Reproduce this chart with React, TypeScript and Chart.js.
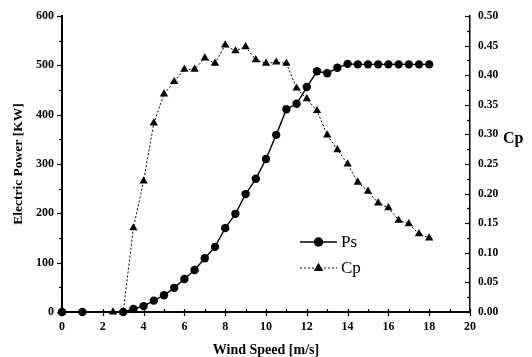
import React, { useEffect, useRef } from "react";
import { Chart, registerables } from "chart.js";

Chart.register(...registerables);

// Wind speed (m/s) for the power curve Ps
const psSpeed = [0, 1, 3, 3.5, 4, 4.5, 5, 5.5, 6, 6.5, 7, 7.5, 8, 8.5, 9, 9.5, 10, 10.5, 11, 11.5, 12, 12.5, 13, 13.5, 14, 14.5, 15, 15.5, 16, 16.5, 17, 17.5, 18];
// Electric power (KW)
const psValues = [0, 0, 0, 6, 12, 23, 34, 49, 67, 85, 109, 132, 170, 199, 239, 270, 310, 359, 411, 422, 456, 488, 484, 495, 503, 502, 502, 502, 502, 502, 502, 502, 502];

// Wind speed (m/s) for Cp
const cpSpeed = [0, 2.5, 3, 3.5, 4, 4.5, 5, 5.5, 6, 6.5, 7, 7.5, 8, 8.5, 9, 9.5, 10, 10.5, 11, 11.5, 12, 12.5, 13, 13.5, 14, 14.5, 15, 15.5, 16, 16.5, 17, 17.5, 18];
const cpValues = [0, 0, 0, 0.142, 0.221, 0.319, 0.368, 0.389, 0.41, 0.41, 0.429, 0.42, 0.451, 0.441, 0.448, 0.426, 0.42, 0.422, 0.42, 0.378, 0.36, 0.34, 0.299, 0.274, 0.25, 0.219, 0.204, 0.184, 0.176, 0.155, 0.149, 0.132, 0.125];

const xTitle = "Wind Speed [m/s]";
const yTitle = "Electric Power [KW]";
const y1Title = "Cp";
const seriesNames = ["Ps", "Cp"];

const SERIF = "'Liberation Serif', 'Times New Roman', serif";

const tickMarks = {
  id: "tickMarks",
  afterDraw(chart: any) {
    const ctx = chart.ctx;
    const { x, y, y1 } = chart.scales;
    const area = chart.chartArea;
    ctx.save();
    ctx.strokeStyle = "#000";
    ctx.lineWidth = 1.2;
    // bottom axis
    for (let v = 0; v <= 20; v += 1) {
      const px = Math.round(x.getPixelForValue(v)) + 0.5;
      ctx.beginPath();
      if (v % 2 === 0) {
        ctx.moveTo(px, area.bottom - 3);
        ctx.lineTo(px, area.bottom + 4);
      } else {
        ctx.moveTo(px, area.bottom - 3);
        ctx.lineTo(px, area.bottom);
      }
      ctx.stroke();
    }
    // left axis
    for (let v = 0; v <= 600; v += 50) {
      const py = Math.round(y.getPixelForValue(v)) + 0.5;
      ctx.beginPath();
      ctx.moveTo(area.left - (v % 100 === 0 ? 5 : 3), py);
      ctx.lineTo(area.left, py);
      ctx.stroke();
    }
    // right axis
    for (let i = 0; i <= 20; i++) {
      const v = i * 0.025;
      const py = Math.round(y1.getPixelForValue(v)) + 0.5;
      ctx.beginPath();
      ctx.moveTo(area.right - (i % 2 === 0 ? 5 : 3), py);
      ctx.lineTo(area.right, py);
      ctx.stroke();
    }
    // right title
    ctx.fillStyle = "#000";
    ctx.font = `bold 16px ${SERIF}`;
    ctx.textAlign = "left";
    ctx.textBaseline = "middle";
    ctx.fillText(y1Title, area.right + 33, y1.getPixelForValue(0.292));

    // legend
    const lx0 = area.left + 238;
    const lx1 = area.left + 275;
    const rows = [area.top + 226, area.top + 252];
    chart.data.datasets.forEach((ds: any, i: number) => {
      const ly = rows[i];
      ctx.save();
      ctx.lineWidth = ds.borderWidth;
      ctx.setLineDash(ds.borderDash || []);
      ctx.beginPath();
      ctx.moveTo(lx0, ly);
      ctx.lineTo(lx1, ly);
      ctx.stroke();
      ctx.restore();
      const cx = (lx0 + lx1) / 2;
      ctx.beginPath();
      if (ds.pointStyle === "triangle") {
        const r = ds.pointRadius;
        ctx.moveTo(cx, ly - r * 1.1);
        ctx.lineTo(cx + r, ly + r * 0.6);
        ctx.lineTo(cx - r, ly + r * 0.6);
        ctx.closePath();
      } else {
        ctx.arc(cx, ly, ds.pointRadius + 0.5, 0, Math.PI * 2);
      }
      ctx.fill();
      ctx.font = `17px ${SERIF}`;
      ctx.fillText(ds.label, lx1 + 4, ly + 1);
    });
    ctx.restore();
  },
};

export default function App() {
  const ref = useRef<HTMLCanvasElement | null>(null);
  useEffect(() => {
    if (!ref.current) return;
    const chart = new Chart(ref.current, {
      type: "line",
      data: {
        datasets: [
          {
            label: seriesNames[0],
            data: psSpeed.map((s, i) => ({ x: s, y: psValues[i] })),
            yAxisID: "y",
            borderColor: "#000",
            backgroundColor: "#000",
            borderWidth: 1.4,
            pointStyle: "circle",
            pointRadius: 4.2,
            pointBorderWidth: 0,
            pointBackgroundColor: "#000",
            tension: 0,
            clip: false,
          } as any,
          {
            label: seriesNames[1],
            data: cpSpeed.map((s, i) => ({ x: s, y: cpValues[i] })),
            yAxisID: "y1",
            borderColor: "#000",
            backgroundColor: "#000",
            borderWidth: 1,
            borderDash: [2, 2],
            pointStyle: "triangle",
            pointRadius: 4.8,
            pointBorderWidth: 0,
            pointBackgroundColor: "#000",
            tension: 0,
            clip: false,
          } as any,
        ],
      },
      options: {
        responsive: false,
        animation: false,
        devicePixelRatio: 1,
        layout: { padding: { top: 16, left: 0, right: 0, bottom: 0 } },
        plugins: { legend: { display: false }, tooltip: { enabled: false } },
        scales: {
          x: {
            type: "linear",
            position: "bottom",
            min: 0,
            max: 20,
            grid: { display: false, drawTicks: false },
            border: { display: true, width: 2, color: "#000" },
            ticks: {
              stepSize: 2,
              color: "#000",
              padding: 8,
              maxRotation: 0,
              font: { family: SERIF, size: 12, weight: "bold" },
            },
            title: {
              display: true,
              text: xTitle,
              color: "#000",
              padding: { top: 0, bottom: 0 },
              font: { family: SERIF, size: 14, weight: "bold", lineHeight: 1 },
            },
            afterFit: (s: any) => {
              s.height = 45;
            },
          },
          y: {
            type: "linear",
            position: "left",
            min: 0,
            max: 600,
            grid: { display: false, drawTicks: false },
            border: { display: true, width: 2, color: "#000" },
            ticks: {
              stepSize: 100,
              color: "#000",
              padding: 8,
              font: { family: SERIF, size: 12, weight: "bold" },
            },
            title: {
              display: true,
              text: yTitle,
              color: "#000",
              padding: { top: 12, bottom: 0 },
              font: { family: SERIF, size: 13.5, weight: "bold", lineHeight: 1 },
            },
            afterFit: (s: any) => {
              s.width = 62;
            },
          },
          y1: {
            type: "linear",
            position: "right",
            min: 0,
            max: 0.5,
            grid: { display: false, drawTicks: false },
            border: { display: true, width: 1.5, color: "#000" },
            ticks: {
              stepSize: 0.05,
              color: "#000",
              padding: 8,
              font: { family: SERIF, size: 11.5, weight: "bold" },
              callback: (v: any) => Number(v).toFixed(2),
            },
            afterFit: (s: any) => {
              s.width = 62;
            },
          },
        },
      },
      plugins: [tickMarks],
    });
    return () => chart.destroy();
  }, []);
  return (
    <canvas
      ref={ref}
      width={532}
      height={357}
      style={{ position: "fixed", left: 0, top: 0, width: 532, height: 357, background: "#fff" }}
    />
  );
}
